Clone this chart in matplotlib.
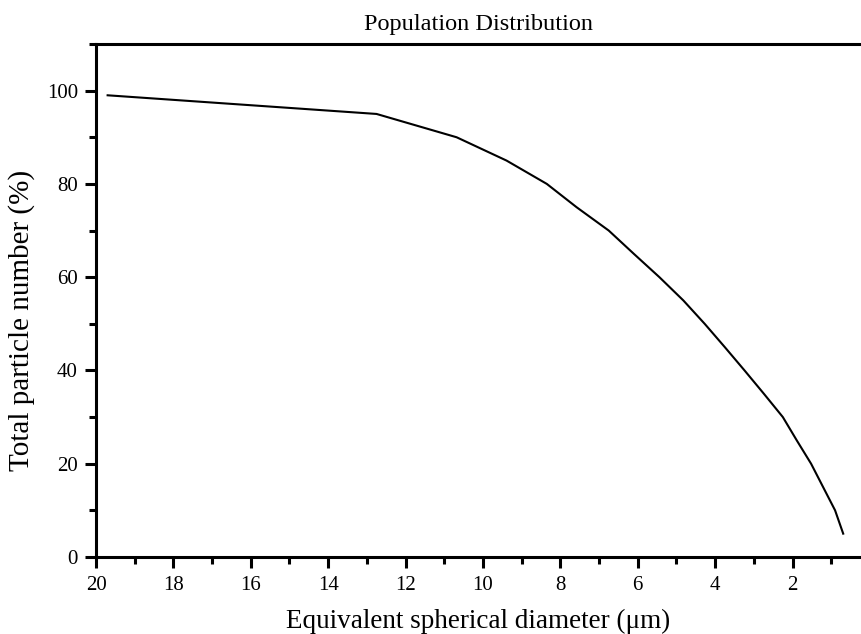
import matplotlib
matplotlib.use("Agg")
import matplotlib.pyplot as plt
from matplotlib.ticker import MultipleLocator

plt.rcParams['font.family'] = ['Liberation Serif', 'DejaVu Serif']

# cumulative particle number vs diameter
diameter = [19.70, 12.75, 10.68, 9.39, 8.35, 7.58, 6.75, 6.10, 5.44, 4.82,
            4.27, 3.75, 3.24, 2.74, 2.25, 1.89, 1.52, 1.21, 0.90, 0.69]
percent = [99, 95, 90, 85, 80, 75, 70, 65, 60, 55,
           50, 45, 40, 35, 30, 25, 20, 15, 10, 5]

fig = plt.figure(figsize=(8.61, 6.34), dpi=100)
ax = fig.add_axes([0.1115, 0.1215, 0.8885, 0.8091])

ax.plot(diameter, percent, color='k', linewidth=1.5)

ax.set_xlim(20, 0.23)
ax.set_ylim(0, 110)
ax.xaxis.set_major_locator(MultipleLocator(2))
ax.xaxis.set_minor_locator(MultipleLocator(1))
ax.yaxis.set_major_locator(MultipleLocator(20))
ax.yaxis.set_minor_locator(MultipleLocator(10))

ax.spines['right'].set_visible(False)
for s in ['left', 'top', 'bottom']:
    ax.spines[s].set_linewidth(2.2)

ax.tick_params(which='major', direction='out', length=8, width=2.2, labelsize=15, pad=5)
ax.tick_params(axis='x', which='major', pad=6)
ax.tick_params(which='minor', direction='out', length=5, width=2.2)

ax.set_xlabel("Equivalent spherical diameter (\u03bcm)", fontsize=19.5, labelpad=10)
ax.set_ylabel("Total particle number (%)", fontsize=21)
ax.yaxis.set_label_coords(-0.080, 0.462)
ax.set_title("Population Distribution", fontsize=17.5, pad=10)

fig.savefig("out.png", dpi=100)
